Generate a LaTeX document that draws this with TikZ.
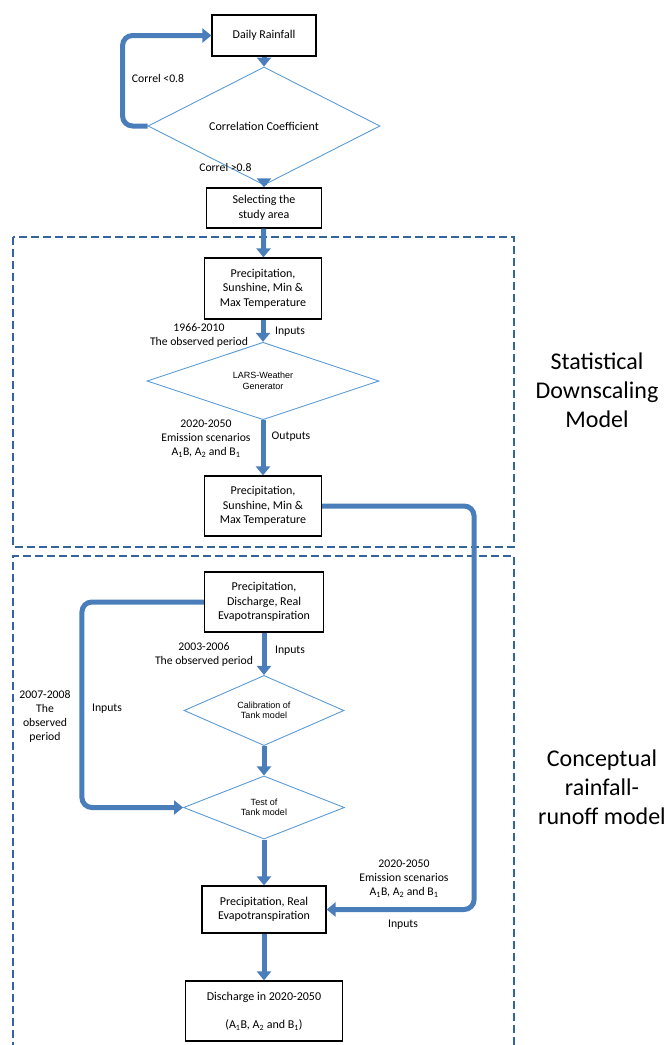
\documentclass[tikz,border=0pt]{standalone}
\usepackage{fontspec}
\setmainfont{Carlito}
\newfontfamily\arialfont{Liberation Sans}
\usetikzlibrary{shapes.geometric, arrows.meta}
\definecolor{flowblue}{RGB}{74,126,187}
\definecolor{frameblue}{RGB}{52,100,158}
\definecolor{diablue}{RGB}{91,155,213}
\tikzset{
    box/.style={draw, rectangle, line width=1.2pt, align=center, inner sep=2pt, font=\fontsize{12}{14.5}\selectfont},
    choice/.style={draw=diablue, diamond, line width=0.9pt, inner sep=0pt, align=center, font=\arialfont\fontsize{9}{10.5}\selectfont},
    flow/.style={draw=flowblue, line width=5pt, -{Triangle[length=9pt,width=14pt]}, rounded corners=10pt},
    frame/.style={draw=frameblue, line width=2.2pt, dash pattern=on 8pt off 4pt},
    note/.style={align=center, font=\fontsize{11.7}{14}\selectfont},
    model/.style={align=center, font=\fontsize{24}{29}\selectfont}
}

\begin{document}
\begin{tikzpicture}[x=1pt, y=-1pt]
    \useasboundingbox (0,0) rectangle (667,1045);
    % the two model frames
    \draw[frame] (13,237) rectangle (514,547);
    \draw[frame] (13,1050) -- (13,556) -- (514,556) -- (514,1050);
    \node[model] (sdm) at (597,390) {Statistical\\Downscaling\\Model};
    \node[model] (crm) at (602,787) {Conceptual\\rainfall-\\runoff model};

    \node[box, minimum width=104pt, minimum height=41pt] (rain) at (264,35.5) {Daily Rainfall};
    \node[choice, minimum width=232pt, minimum height=64pt, font=\fontsize{12}{14.5}\selectfont] (corr) at (264,126) {Correlation Coefficient};
    \node[box, minimum width=115pt, minimum height=40pt] (area) at (264,208) {Selecting the\\study area};
    \node[box, minimum width=117pt, minimum height=61pt] (obs1) at (263,288.5) {Precipitation,\\Sunshine, Min \&\\Max Temperature};
    \node[choice, minimum width=232pt, minimum height=63pt] (lars) at (263,381) {LARS-Weather\\Generator};
    \node[box, minimum width=117pt, minimum height=60pt] (gen1) at (263,506) {Precipitation,\\Sunshine, Min \&\\Max Temperature};
    \node[box, minimum width=119pt, minimum height=60pt] (obs2) at (264,602) {Precipitation,\\Discharge, Real\\Evapotranspiration};
    \node[choice, minimum width=160pt, minimum height=63pt] (calib) at (264,710.5) {Calibration of\\Tank model};
    \node[choice, minimum width=161pt, minimum height=63pt] (test) at (264,807.5) {Test of\\Tank model};
    \node[box, minimum width=124pt, minimum height=47pt] (runin) at (264,909.5) {Precipitation, Real\\Evapotranspiration};
    \node[box, minimum width=157pt, minimum height=60pt] (disch) at (264,1011) {Discharge in 2020-2050\\[14pt](A\textsubscript{1}B, A\textsubscript{2} and B\textsubscript{1})};

    \draw[flow] (rain) -- (corr);
    \draw[flow] (corr.west) -- ++(-25,0) |- (rain.west);
    \draw[flow] (corr) -- (area);
    \draw[flow] (area) -- (obs1);
    \draw[flow] (obs1) -- (lars);
    \draw[flow] (lars) -- (gen1);
    \draw[flow] (gen1.east) -- ++(152,0) |- (runin.east);
    \draw[flow] (obs2) -- (calib);
    \draw[flow] (obs2.west) -- ++(-122,0) |- (test.west);
    \draw[flow] (calib) -- (test);
    \draw[flow] (test) -- (runin);
    \draw[flow] (runin) -- (disch);

    \node[note] (lo) at (158,78) {Correl <0.8};
    \node[note, anchor=east] (hi) at (255,167) {Correl >0.8};
    \node[note] (per1) at (199,335.5) {1966-2010\\The observed period};
    \node[note] (in1) at (290,332) {Inputs};
    \node[note] (scen1) at (206,438.5) {2020-2050\\Emission scenarios\\A\textsubscript{1}B, A\textsubscript{2} and B\textsubscript{1}};
    \node[note] (out1) at (291,437) {Outputs};
    \node[note] (per2) at (204,654.5) {2003-2006\\The observed period};
    \node[note] (in2) at (290,651) {Inputs};
    \node[note] (per3) at (45,716.5) {2007-2008\\The\\observed\\period};
    \node[note] (in3) at (107,709) {Inputs};
    \node[note] (scen2) at (404,878.5) {2020-2050\\Emission scenarios\\A\textsubscript{1}B, A\textsubscript{2} and B\textsubscript{1}};
    \node[note] (in4) at (403,925) {Inputs};
\end{tikzpicture}
\end{document}
